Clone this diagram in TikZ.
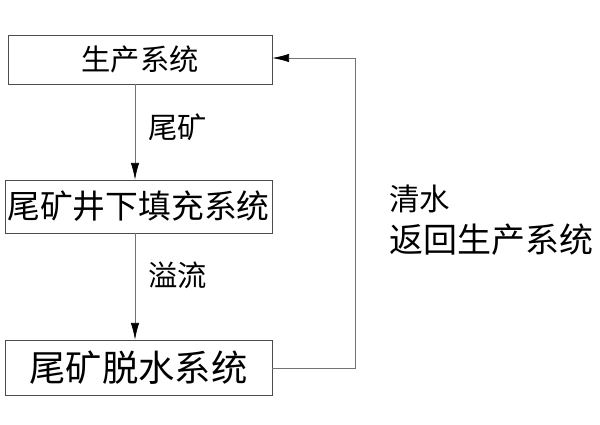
\documentclass[tikz,border=0pt]{standalone}
\usepackage{fontspec}
\newfontfamily\cjk{Noto Sans CJK SC}
\usetikzlibrary{arrows.meta}
\tikzset{
  sysbox/.style={draw=black!70, line width=0.6pt, inner sep=0pt},
  flow/.style={draw=black!55, line width=0.6pt, -{Latex[length=0.5cm,width=0.25cm,black]}},
  lbl/.style={anchor=west, inner sep=0pt}
}
\begin{document}
\begin{tikzpicture}[x=0.03cm, y=-0.03cm]
\useasboundingbox (0,0) rectangle (600,424);
% Boxes
\node[sysbox, minimum width=7.92cm, minimum height=1.47cm, font=\cjk\fontsize{25}{25}\selectfont] (prod) at (140,59.5) {生产系统};
\node[sysbox, minimum width=8.01cm, minimum height=1.59cm, font=\cjk\fontsize{28}{28}\selectfont] (fill) at (138.5,206.5) {尾矿井下填充系统};
\node[sysbox, minimum width=8.01cm, minimum height=1.65cm, font=\cjk\fontsize{31}{31}\selectfont] (dewat) at (138.5,367.5) {尾矿脱水系统};
% Flows
\draw[flow] (prod.south -| 135,0) -- (fill.north -| 135,0);
\draw[flow] (fill.south -| 135,0) -- (dewat.north -| 135,0);
\coordinate (corner1) at (355,368);
\coordinate (corner2) at (355,58);
\draw[flow] (dewat.east |- corner1) -- (corner1) -- (corner2) -- (prod.east |- corner2);
% Labels
\node[lbl, font=\cjk\fontsize{25}{25}\selectfont] (tail) at (148,127) {尾矿};
\node[lbl, font=\cjk\fontsize{25}{25}\selectfont] (over) at (148,275) {溢流};
\node[lbl, font=\cjk\fontsize{26}{26}\selectfont] (water) at (389,199) {清水};
\node[lbl, font=\cjk\fontsize{29}{29}\selectfont] (ret) at (389,240) {返回生产系统};
\end{tikzpicture}
\end{document}
